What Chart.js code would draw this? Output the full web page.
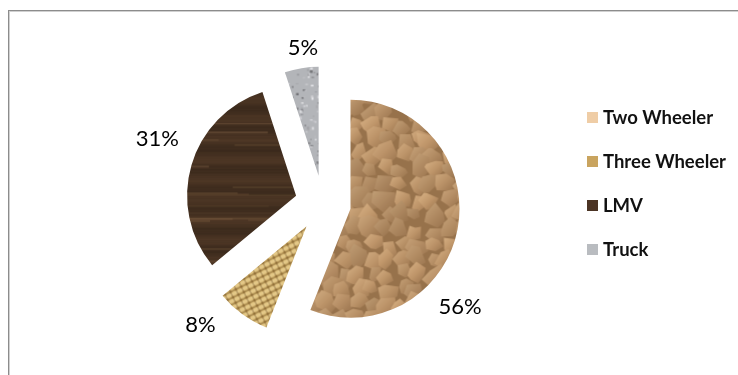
<!DOCTYPE html>
<html>
<head>
<meta charset="utf-8">
<script src="https://cdn.jsdelivr.net/npm/chart.js@4.4.1/dist/chart.umd.min.js"></script>
<style>
  html, body { margin: 0; padding: 0; background: #fff; }
  #wrap { position: relative; width: 738px; height: 375px; overflow: hidden; }
  #frame { position: absolute; left: 8px; top: 10px; width: 900px; height: 500px;
           border-left: 1px solid #8c8c8c; border-top: 1px solid #8c8c8c;
           box-shadow: inset 1px 1px 0 #d0d0d0; }
  #pie { position: absolute; left: 0; top: 0; }
  #legend { position: absolute; left: 587px; top: 95px; font: bold 18.5px Lato, sans-serif; color: #111; }
  .item { height: 44px; display: flex; align-items: center; }
  .swatch { width: 11px; height: 11px; margin-right: 5px; }
</style>
</head>
<body>
<div id="wrap">
  <div id="frame"></div>
  <canvas id="pie" width="738" height="375"></canvas>
  <div id="legend"></div>
</div>
<script>
// chart data
const vehicleTypes = ['Two Wheeler', 'Three Wheeler', 'LMV', 'Truck'];
const sharePercent = [56, 8, 31, 5];

// legend swatch colours (the slices use textures built below)
const swatchColors = ['#efcda6', '#c9a45f', '#4b3424', '#b9bcc0'];

// label placement: angle shift from the slice middle (deg) and distance from the slice tip
const labelShift = [31, 11, 6, 2];
const labelDist = [147, 145, 150, 129];
const explodePx = 28; // how far every slice is pulled out

const W = 738, H = 375;

// small seeded generator so textures look the same every run
function seeded(seed) {
    let s = seed >>> 0;
    return () => { s = (s * 1664525 + 1013904223) >>> 0; return s / 4294967296; };
}

function makeCanvas(w, h) {
    const c = document.createElement('canvas');
    c.width = w; c.height = h;
    return c;
}

// cracked dry earth (Two Wheeler)
function earthTexture() {
    const c = makeCanvas(W, H), g = c.getContext('2d'), r = seeded(11);
    g.fillStyle = '#8f6b46';
    g.fillRect(0, 0, W, H);
    const step = 15;
    for (let cy = 0; cy < H + step; cy += step) {
        for (let cx = 0; cx < W + step; cx += step) {
            const x = cx + (r() - 0.5) * 9, y = cy + (r() - 0.5) * 9;
            const n = 5 + Math.floor(r() * 3), rad = 9 + r() * 5;
            const gr = g.createLinearGradient(x - rad, y - rad, x + rad, y + rad);
            const lt = 0.92 + r() * 0.16;
            gr.addColorStop(0, `rgb(${Math.round(222 * lt)},${Math.round(188 * lt)},${Math.round(146 * lt)})`);
            gr.addColorStop(0.5, `rgb(${Math.round(186 * lt)},${Math.round(147 * lt)},${Math.round(106 * lt)})`);
            gr.addColorStop(1, 'rgb(138,101,66)');
            g.fillStyle = gr;
            g.beginPath();
            for (let k = 0; k < n; k++) {
                const a = k / n * Math.PI * 2 + r() * 0.7;
                const rr = rad * (0.65 + r() * 0.45);
                const px = x + Math.cos(a) * rr, py = y + Math.sin(a) * rr;
                if (k === 0) g.moveTo(px, py); else g.lineTo(px, py);
            }
            g.closePath();
            g.fill();
        }
    }
    // softer overall shading
    g.fillStyle = 'rgba(172,132,90,0.3)';
    g.fillRect(0, 0, W, H);
    return c;
}

// woven basket (Three Wheeler)
function wovenTexture() {
    const c = makeCanvas(W, H), g = c.getContext('2d');
    g.fillStyle = '#c09c5a';
    g.fillRect(0, 0, W, H);
    g.save();
    g.translate(W / 2, H / 2);
    g.rotate(-0.45);
    const gap = 6;
    // light strands one way
    g.fillStyle = 'rgba(236,212,150,0.85)';
    for (let y = -500; y < 500; y += gap) g.fillRect(-600, y, 1200, 3);
    // crossing strands, partly transparent
    g.fillStyle = 'rgba(226,198,132,0.55)';
    for (let x = -600; x < 600; x += gap) g.fillRect(x, -500, 3, 1000);
    // dark gaps
    g.fillStyle = 'rgba(110,80,35,0.55)';
    for (let y = -500; y < 500; y += gap) g.fillRect(-600, y + 4, 1200, 1);
    for (let x = -600; x < 600; x += gap) g.fillRect(x + 4, -500, 1, 1000);
    g.restore();
    return c;
}

// dark wood grain (LMV)
function woodTexture() {
    const c = makeCanvas(W, H), g = c.getContext('2d'), r = seeded(5);
    for (let y = 0; y < H; y++) {
        const b = 0.92 + 0.1 * Math.sin(y * 0.31) + 0.08 * (r() - 0.5);
        g.fillStyle = `rgb(${Math.round(74 * b)},${Math.round(52 * b)},${Math.round(35 * b)})`;
        g.fillRect(0, y, W, 1);
    }
    for (let i = 0; i < 110; i++) {
        const y = r() * H, x = r() * W, len = 40 + r() * 160;
        g.fillStyle = `rgba(125,96,66,${0.2 + r() * 0.3})`;
        g.fillRect(x, y, len, 1 + r());
    }
    return c;
}

// grey granite (Truck)
function graniteTexture() {
    const c = makeCanvas(W, H), g = c.getContext('2d'), r = seeded(23);
    g.fillStyle = '#b3b5b9';
    g.fillRect(0, 0, W, H);
    for (let i = 0; i < 9000; i++) {
        const v = Math.round(90 + r() * 165);
        g.fillStyle = `rgba(${v},${v},${v + 4},0.8)`;
        g.fillRect(r() * W, r() * H, 1 + r() * 2, 1 + r() * 2);
    }
    return c;
}

const ctx0 = document.getElementById('pie').getContext('2d');
const slicePatterns = [earthTexture(), wovenTexture(), woodTexture(), graniteTexture()]
    .map(t => ctx0.createPattern(t, 'no-repeat'));

// draw each slice pulled out along its middle angle
const explodePlugin = {
    id: 'explode',
    beforeDatasetDraw(chart, args) {
        const ctx = chart.ctx;
        args.meta.data.forEach(arc => {
            const mid = (arc.startAngle + arc.endAngle) / 2;
            ctx.save();
            ctx.translate(Math.cos(mid) * explodePx, Math.sin(mid) * explodePx);
            arc.draw(ctx);
            ctx.restore();
        });
        return false;
    }
};

// percentage labels outside the slices
const labelPlugin = {
    id: 'sliceLabels',
    afterDatasetsDraw(chart) {
        const ctx = chart.ctx;
        const meta = chart.getDatasetMeta(0);
        ctx.save();
        ctx.font = '22px Lato, sans-serif';
        ctx.fillStyle = '#000';
        ctx.textAlign = 'center';
        ctx.textBaseline = 'middle';
        meta.data.forEach((arc, i) => {
            const mid = (arc.startAngle + arc.endAngle) / 2;
            const tipX = arc.x + Math.cos(mid) * explodePx;
            const tipY = arc.y + Math.sin(mid) * explodePx;
            const a = mid + labelShift[i] * Math.PI / 180;
            ctx.fillText(sharePercent[i] + '%', tipX + Math.cos(a) * labelDist[i], tipY + Math.sin(a) * labelDist[i]);
        });
        ctx.restore();
    }
};

new Chart(document.getElementById('pie'), {
    type: 'pie',
    data: {
        labels: vehicleTypes,
        datasets: [{
            data: sharePercent,
            backgroundColor: slicePatterns,
            borderWidth: 0,
            radius: 109
        }]
    },
    options: {
        responsive: false,
        devicePixelRatio: 1,
        animation: false,
        events: [],
        radius: 109,
        layout: { padding: { left: 0, right: 92, top: 32, bottom: 0 } },
        plugins: { legend: { display: false }, tooltip: { enabled: false } }
    },
    plugins: [explodePlugin, labelPlugin]
});

// legend
const legend = document.getElementById('legend');
vehicleTypes.forEach((name, i) => {
    const item = document.createElement('div');
    item.className = 'item';
    item.innerHTML = `<span class="swatch" style="background:${swatchColors[i]}"></span><span>${name}</span>`;
    legend.appendChild(item);
});
</script>
</body>
</html>
